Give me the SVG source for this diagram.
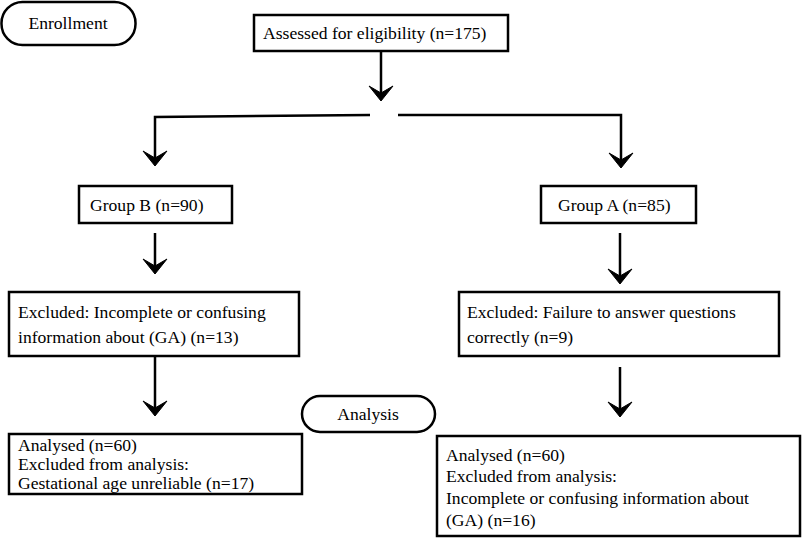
<svg xmlns="http://www.w3.org/2000/svg" width="802" height="540" viewBox="0 0 802 540">
<style>
.b{fill:#fff;stroke:#000;stroke-width:2.5}
text{font-family:"Liberation Serif",serif;font-size:17.6px;fill:#000}
.c{fill:none;stroke:#000;stroke-width:2.5}
</style>
<defs><path id="ah" d="M-12,-15 L0,0 L12,-15 L0,-8 Z" fill="#000" stroke="#000" stroke-width="1"/></defs>
<rect width="802" height="540" fill="#fff"/>
<g id="enrollment"><rect class="b" x="1.5" y="2" width="134" height="43" rx="21"/><text x="68" y="29" text-anchor="middle">Enrollment</text></g>
<g id="assessed"><rect class="b" x="254" y="15" width="254" height="36"/><text x="263" y="39">Assessed for eligibility (n=175)</text></g>
<g id="groupB"><rect class="b" x="79" y="186" width="153" height="37"/><text x="90" y="211">Group B (n=90)</text></g>
<g id="groupA"><rect class="b" x="541" y="186" width="155" height="37"/><text x="558" y="211">Group A (n=85)</text></g>
<g id="exclB"><rect class="b" x="9" y="292" width="290" height="64"/><text x="18" y="318">Excluded: Incomplete or confusing</text><text x="18" y="343">information about (GA) (n=13)</text></g>
<g id="exclA"><rect class="b" x="459" y="292" width="320" height="64"/><text x="467" y="318">Excluded: Failure to answer questions</text><text x="467" y="343">correctly (n=9)</text></g>
<g id="analysis"><rect class="b" x="302" y="396" width="133" height="36" rx="18"/><text x="368" y="420" text-anchor="middle">Analysis</text></g>
<g id="analysedB"><rect class="b" x="9" y="434" width="293" height="60"/><text x="18" y="451">Analysed (n=60)</text><text x="18" y="470">Excluded from analysis:</text><text x="18" y="489">Gestational age unreliable (n=17)</text></g>
<g id="analysedA"><rect class="b" x="437" y="436" width="363" height="100"/><text x="446" y="461">Analysed (n=60)</text><text x="446" y="482">Excluded from analysis:</text><text x="446" y="504">Incomplete or confusing information about</text><text x="446" y="526">(GA) (n=16)</text></g>
<g id="connectors">
<path class="c" d="M381,52 V96"/><use href="#ah" x="381" y="101"/>
<path class="c" d="M370,115 L155,117 V160"/><use href="#ah" x="155" y="166"/>
<path class="c" d="M398,115 H621 V162"/><use href="#ah" x="621" y="168"/>
<path class="c" d="M155,233 V268"/><use href="#ah" x="155" y="274"/>
<path class="c" d="M620,233 V278"/><use href="#ah" x="620" y="284"/>
<path class="c" d="M155,357 V410"/><use href="#ah" x="155" y="416"/>
<path class="c" d="M620,367 V411"/><use href="#ah" x="620" y="417"/>
</g>
</svg>
